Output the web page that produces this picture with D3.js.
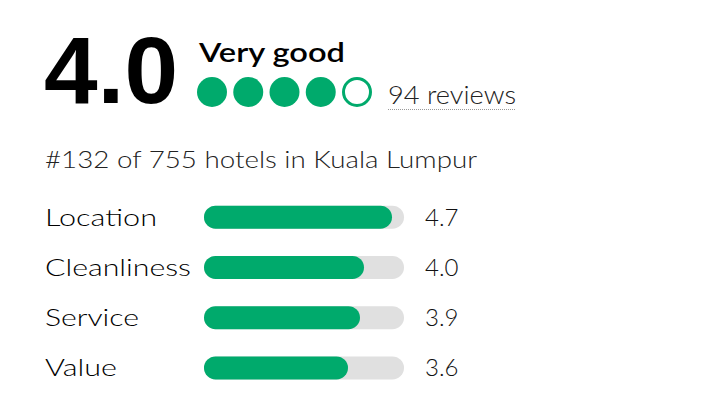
<!DOCTYPE html>
<html><head><meta charset="utf-8">
<script src="https://cdn.jsdelivr.net/npm/d3@7"></script>
<style>html,body{margin:0;padding:0;background:#fff;}svg{display:block;}</style>
</head><body>
<script>
const overallRating = 4.0;
const ratingLabel = "Very good";
const reviewCount = 94;
const rankText = "#132 of 755 hotels in Kuala Lumpur";
const bubbles = [1, 2, 3, 4, 5];
const categories = ["Location", "Cleanliness", "Service", "Value"];
const scores = [4.7, 4.0, 3.9, 3.6];

const W = 708, H = 412;
const green = "#00aa6c";
const svg = d3.select("body").append("svg").attr("width", W).attr("height", H);

svg.append("text").attr("x", 44).attr("y", 103)
  .attr("font-family", "Liberation Sans, Arial, sans-serif").attr("font-weight", 700)
  .attr("font-size", 95).attr("fill", "#000")
  .attr("textLength", 134).attr("lengthAdjust", "spacingAndGlyphs")
  .text(overallRating.toFixed(1));

svg.append("text").attr("x", 199).attr("y", 62)
  .attr("font-family", "Lato, sans-serif").attr("font-weight", 600)
  .attr("font-size", 27).attr("fill", "#000")
  .attr("textLength", 146).attr("lengthAdjust", "spacingAndGlyphs")
  .text(ratingLabel);

const bx = d3.scaleLinear().domain([1, 5]).range([212, 357]);
svg.append("g").selectAll("circle").data(bubbles).join("circle")
  .attr("cx", d => bx(d)).attr("cy", 92)
  .attr("r", d => d <= overallRating ? 15 : 13.5)
  .attr("fill", d => d <= overallRating ? green : "#fff")
  .attr("stroke", green)
  .attr("stroke-width", d => d <= overallRating ? 0 : 3);

svg.append("text").attr("x", 388).attr("y", 104)
  .attr("font-family", "Lato, sans-serif").attr("font-weight", 300)
  .attr("font-size", 25).attr("fill", "#222")
  .attr("textLength", 128).attr("lengthAdjust", "spacingAndGlyphs")
  .text(reviewCount + " reviews");
svg.append("line").attr("x1", 388).attr("x2", 516).attr("y1", 109.5).attr("y2", 109.5)
  .attr("stroke", "#999").attr("stroke-width", 1).attr("stroke-dasharray", "1,1");

svg.append("text").attr("x", 45).attr("y", 168)
  .attr("font-family", "Lato, sans-serif").attr("font-weight", 300)
  .attr("font-size", 23).attr("fill", "#222")
  .attr("textLength", 432).attr("lengthAdjust", "spacingAndGlyphs")
  .text(rankText);

const x = d3.scaleLinear().domain([0, 5]).range([204, 404]);
const y = d3.scaleBand().domain(categories).range([192, 393]).paddingInner(0.54).paddingOuter(0.27);
const labelW = {"Location": 112, "Cleanliness": 146, "Service": 94, "Value": 72};

const rows = svg.append("g").selectAll("g").data(categories).join("g");
const bh = 23;
rows.append("rect")
  .attr("x", x(0)).attr("width", x(5) - x(0))
  .attr("y", d => y(d) + y.bandwidth() / 2 - bh / 2).attr("height", bh)
  .attr("rx", bh / 2).attr("fill", "#e0e0e0");
rows.append("rect")
  .attr("x", x(0)).attr("width", (d, i) => x(scores[i]) - x(0))
  .attr("y", d => y(d) + y.bandwidth() / 2 - bh / 2).attr("height", bh)
  .attr("rx", bh / 2).attr("fill", green);
rows.append("text")
  .attr("x", 45).attr("y", d => y(d) + y.bandwidth() / 2 + 8.5)
  .attr("font-family", "Lato, sans-serif").attr("font-weight", 300)
  .attr("font-size", 24).attr("fill", "#000")
  .attr("textLength", d => labelW[d]).attr("lengthAdjust", "spacingAndGlyphs")
  .text(d => d);
rows.append("text")
  .attr("x", 425).attr("y", d => y(d) + y.bandwidth() / 2 + 8.5)
  .attr("font-family", "Lato, sans-serif").attr("font-weight", 300)
  .attr("font-size", 24).attr("fill", "#111")
  .text((d, i) => scores[i].toFixed(1));
</script>
</body></html>
